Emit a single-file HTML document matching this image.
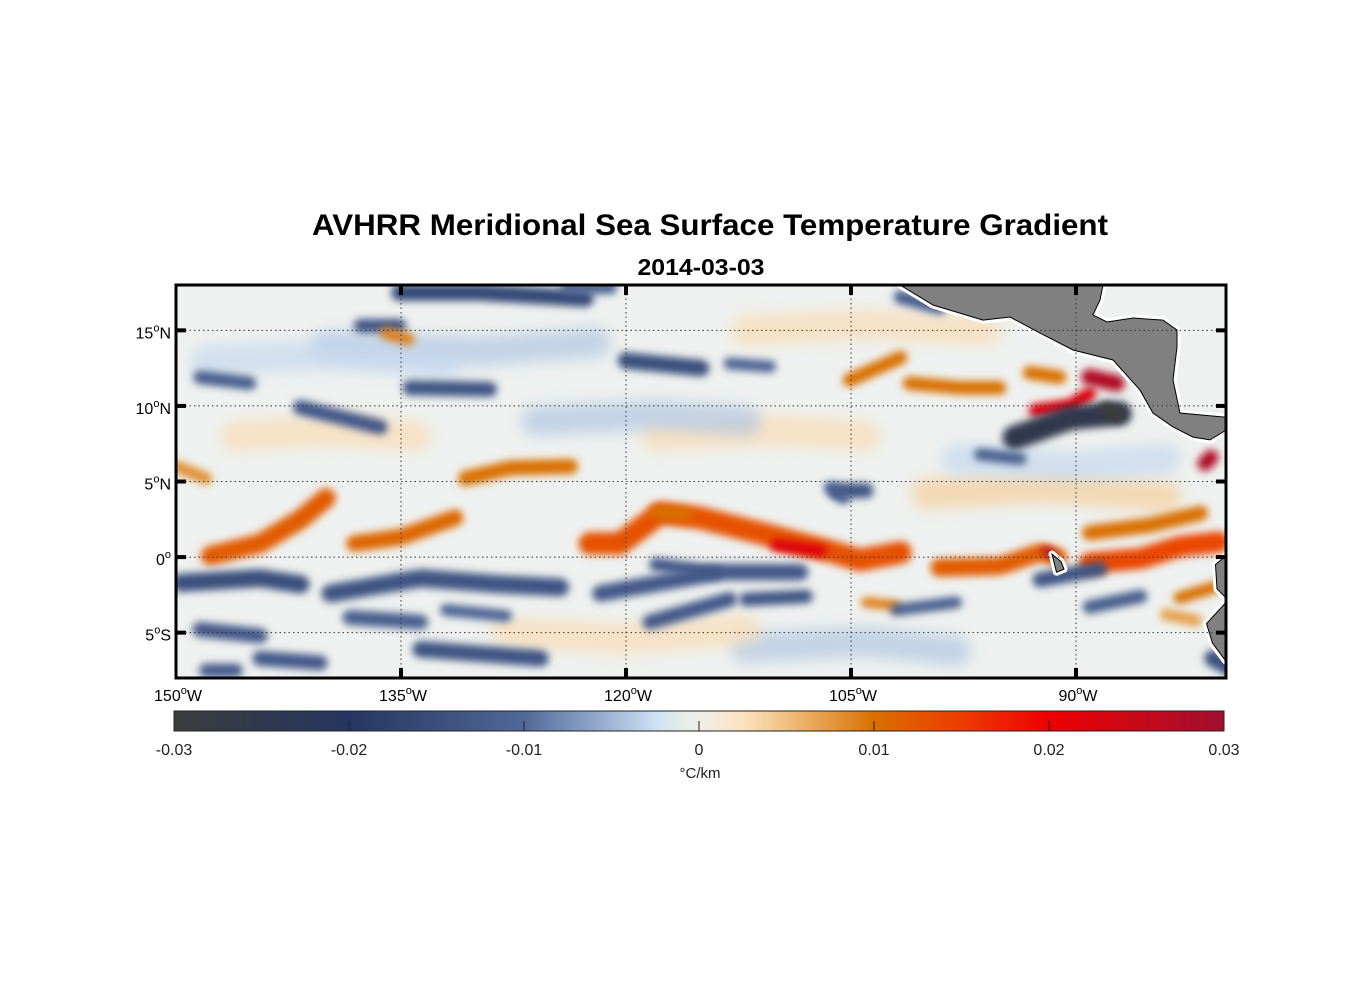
<!DOCTYPE html>
<html><head><meta charset="utf-8">
<style>
body{margin:0;background:#fff;}
svg{display:block;font-family:"Liberation Sans",Arial,sans-serif;}
</style></head>
<body>
<svg id="chart" width="1356" height="1000" viewBox="0 0 1356 1000">
<defs>
  <clipPath id="plotClip"><rect x="176" y="285" width="1050" height="393"/></clipPath>
  <filter id="blur" filterUnits="userSpaceOnUse" x="0" y="0" width="1356" height="1000"><feGaussianBlur stdDeviation="4"/></filter>
  <filter id="blur2" filterUnits="userSpaceOnUse" x="0" y="0" width="1356" height="1000"><feGaussianBlur stdDeviation="7"/></filter>
  <linearGradient id="cbGrad" x1="0" x2="1" y1="0" y2="0"></linearGradient>
</defs>
<text x="710" y="235" text-anchor="middle" font-size="30" font-weight="bold" textLength="796" lengthAdjust="spacingAndGlyphs">AVHRR Meridional Sea Surface Temperature Gradient</text>
<text x="701" y="275" text-anchor="middle" font-size="23" font-weight="bold" textLength="127" lengthAdjust="spacingAndGlyphs">2014-03-03</text>
<rect x="176" y="285" width="1050" height="393" fill="#eef1ef"/>
<g id="field" clip-path="url(#plotClip)"></g>
<g id="land" clip-path="url(#plotClip)"></g>
<g id="grid"></g>
<rect x="176" y="285" width="1050" height="393" fill="none" stroke="#000" stroke-width="3"/>
<g id="axes"></g>
<g id="colorbar"></g>
<text x="700" y="778" text-anchor="middle" font-size="15" fill="#222">°C/km</text>
</svg>
<script>
// ---- data ----
const lonTicks = [-150, -135, -120, -105, -90];
const lonTickLabels = ["150", "135", "120", "105", "90"];
const latTicks = [15, 10, 5, 0, -5];
const latTickLabels = ["15", "10", "5", "0", "5"];
const latTickSuffix = ["N", "N", "N", "", "S"];
const cbTicks = [-0.03, -0.02, -0.01, 0, 0.01, 0.02, 0.03];
const cbTickLabels = ["-0.03", "-0.02", "-0.01", "0", "0.01", "0.02", "0.03"];
const cmapValues = [-0.03, -0.02, -0.01, -0.005, -0.0025, -0.001, 0, 0.0025, 0.005, 0.01, 0.015, 0.02, 0.03];
const cmapColors = ["#3c3c3c", "#243660", "#51689a", "#9fb6d6", "#cde0f5", "#e2ede7", "#f0eeec", "#fce2c0", "#f0c080", "#d97000", "#ee3c00", "#ee0000", "#a01030"];
const featureValues = [0.003, 0.003, -0.004, -0.004, 0.004, -0.003, 0.003, -0.004, 0.003, -0.003,
  0.012, 0.011, 0.010, 0.013, 0.012, 0.014, 0.010, 0.010, 0.010, 0.010, 0.022, 0.028, 0.028, 0.010, 0.022, 0.028, 0.010,
  -0.025, -0.030, -0.015, -0.014, -0.013, -0.016, -0.014, -0.014, -0.013, -0.012, -0.013, -0.013, -0.012, -0.014, -0.013, -0.012, -0.014, -0.012, -0.015, -0.014, -0.015, -0.012, -0.011, -0.012, -0.013,
  0.008, 0.009, -0.012, -0.011, -0.013, 0.009, -0.012, -0.014, 0.007];
const featureWidths = [2.0, 2.0, 2.0, 2.0, 2.0, 2.0, 2.0, 2.0, 2.0, 2.0,
  1.3, 1.1, 1.0, 1.5, 1.2, 1.4, 1.0, 0.9, 0.9, 0.9, 0.9, 1.1, 1.0, 0.8, 0.8, 0.6, 0.9,
  1.6, 1.0, 1.2, 1.2, 1.1, 1.1, 0.9, 1.0, 1.0, 0.9, 1.0, 1.0, 1.0, 1.1, 1.0, 0.9, 1.0, 0.9, 1.1, 1.0, 1.1, 0.8, 0.8, 0.8, 0.9,
  0.8, 0.8, 0.8, 0.8, 0.9, 0.7, 0.8, 0.9, 0.8];
const featureLons = [
  [-146.0,-140.0,-134.0],[-118.0,-110.0,-104.0],[-140.0,-130.0,-122.0],[-112.0,-104.0,-98.0],[-100.0,-92.0,-84.0],
  [-148.0,-140.0,-132.0],[-128.0,-120.0,-112.0],[-126.0,-118.0,-112.0],[-112.0,-104.0,-96.0],[-98.0,-90.0,-84.0],
  [-147.7,-144.4,-141.7,-140.0],[-138.1,-135.1,-131.4],[-130.7,-127.7,-123.7],
  [-122.4,-120.4,-117.7,-115.1,-111.1,-108.4,-106.1,-104.4,-101.7],
  [-99.1,-95.1,-92.4,-91.2],[-89.1,-85.7,-83.1,-80.5],[-89.1,-85.1,-81.7],[-105.1,-101.7],[-101.1,-97.7,-95.1],
  [-93.1,-91.1],[-92.7,-90.4,-89.1],[-89.1,-87.3],[-81.4,-81.0],[-83.1,-80.8],[-110.0,-107.0],[-92.0,-91.6],[-118.0,-116.0],
  [-94.1,-90.4,-87.1],[-88.0,-87.2],[-149.7,-144.4,-141.7],[-139.7,-133.7,-128.4,-124.4],[-121.7,-113.7,-108.4],
  [-135.1,-129.7,-122.7],[-137.7,-135.1],[-134.4,-129.1],[-141.7,-136.4],[-148.4,-145.1],[-148.4,-144.4],[-144.4,-140.4],
  [-138.4,-133.7],[-133.7,-125.7],[-118.4,-113.1],[-101.7,-99.1],[-92.4,-88.4],[-89.1,-85.7],[-80.9,-79.8],[-106.0,-104.0],
  [-120.0,-115.0],[-96.4,-93.7],[-113.1,-110.4],[-106.4,-105.5],[-148.0,-146.0],
  [-150.0,-148.0],[-136.0,-134.5],[-124.0,-121.0],[-132.0,-128.0],[-118.0,-114.0],[-104.0,-102.0],[-102.0,-98.0],[-112.0,-108.0],[-84.0,-82.0]
];
const featureLats = [
  [8.0,8.4,8.0],[8.0,8.4,8.0],[14.0,13.6,14.2],[-6.0,-5.6,-6.2],[4.2,4.6,4.0],
  [13.0,13.4,12.8],[-5.0,-5.4,-4.8],[9.0,9.4,9.0],[15.0,15.4,15.0],[6.5,6.0,6.5],
  [0.1,0.9,2.5,3.9],[0.9,1.3,2.6],[5.2,5.9,6.0],
  [0.9,0.9,2.9,2.6,1.6,0.9,0.3,-0.2,0.3],
  [-0.7,-0.6,0.3,0.0],[-0.4,-0.1,0.7,1.0],[1.6,2.1,2.9],[11.7,13.2],[11.5,11.2,11.2],
  [12.2,11.9],[9.7,10.0,10.8],[11.9,11.5],[6.2,6.6],[-2.7,-2.0],[0.8,0.4],[0.4,0.2],[3.0,2.8],
  [7.9,9.2,9.5],[9.8,9.4],[-1.7,-1.4,-1.8],[-2.4,-1.4,-1.8,-2.0],[-2.4,-1.0,-1.0],
  [17.5,17.5,17.1],[15.3,15.3],[11.2,11.1],[9.9,8.6],[11.9,11.5],[-4.8,-5.2],[-6.7,-7.0],
  [-4.0,-4.3],[-6.1,-6.7],[-4.3,-2.8],[17.2,16.5],[-1.5,-0.8],[-3.3,-2.6],[-6.7,-7.3],[4.4,4.4],
  [13.0,12.5],[6.8,6.5],[12.8,12.6],[4.6,3.9],[-7.5,-7.5],
  [6.0,5.2],[14.8,14.4],[17.8,17.8],[-3.5,-3.9],[-0.5,-1.0],[-3.0,-3.2],[-3.5,-3.0],[-2.8,-2.6],[-3.8,-4.2]
];
const landLons = [
  [-101.73,-99.53,-96.2,-94.4,-92.4,-90.2,-87.53,-85.73,-84.87,-83.53,-82.2,-81.07,-79.5,-79.5,-83.07,-83.53,-83.27,-83.27,-84.2,-86.2,-87.93,-88.87,-88.4,-88.2,-88.2,-101.73],
  [-79.5,-80.0,-80.7,-80.6,-80.0,-79.5],
  [-79.5,-80.0,-81.3,-80.9,-80.0,-79.5],
  [-91.6,-91.0,-90.8,-91.3,-91.6]
];
const landLats = [
  [18.0,16.68,15.68,15.88,14.82,13.7,13.04,11.05,9.53,8.61,7.94,7.75,8.7,9.2,9.53,11.71,13.9,15.02,15.68,15.82,15.55,16.02,17.0,18.0,19.5,19.5],
  [0.3,0.1,-0.5,-2.1,-2.7,-2.7],
  [-3.0,-3.0,-4.4,-5.7,-6.9,-6.9],
  [0.2,-0.3,-0.8,-1.0,0.2]
];

// ---- axes ----
const X0 = 176, X1 = 1226, Y0 = 285, Y1 = 678;
const LON0 = -150, LON1 = -80, LAT0 = -8, LAT1 = 18;
const xScale = lon => X0 + (lon - LON0) / (LON1 - LON0) * (X1 - X0);
const yScale = lat => Y1 - (lat - LAT0) / (LAT1 - LAT0) * (Y1 - Y0);
const CB0 = 174, CB1 = 1224, CBY = 711, CBH = 20;
const cbScale = v => CB0 + (v - cbTicks[0]) / (cbTicks[cbTicks.length-1] - cbTicks[0]) * (CB1 - CB0);
const NS = "http://www.w3.org/2000/svg";
function mk(tag, attrs, parent){ const e = document.createElementNS(NS, tag); for (const k in attrs) e.setAttribute(k, attrs[k]); parent.appendChild(e); return e; }
function hex(c){ return [parseInt(c.substr(1,2),16), parseInt(c.substr(3,2),16), parseInt(c.substr(5,2),16)]; }
function cmap(v){
  if (v <= cmapValues[0]) return cmapColors[0];
  for (let i = 1; i < cmapValues.length; i++) {
    if (v <= cmapValues[i]) {
      const t = (v - cmapValues[i-1]) / (cmapValues[i] - cmapValues[i-1]);
      const a = hex(cmapColors[i-1]), b = hex(cmapColors[i]);
      return "rgb(" + a.map((x, j) => Math.round(x + (b[j] - x) * t)).join(",") + ")";
    }
  }
  return cmapColors[cmapColors.length-1];
}
const pxPerDeg = (Y1 - Y0) / (LAT1 - LAT0);

const field = document.getElementById('field');
featureValues.forEach((v, i) => {
  const pts = featureLons[i].map((lon, j) => xScale(lon).toFixed(1) + "," + yScale(featureLats[i][j]).toFixed(1)).join(" ");
  const wide = featureWidths[i] >= 2;
  const pl = mk('polyline', {points: pts, fill: "none", stroke: cmap(v), "stroke-width": (featureWidths[i] * pxPerDeg).toFixed(1),
    "stroke-linecap": "round", "stroke-linejoin": "round", filter: wide ? "url(#blur2)" : "url(#blur)", opacity: wide ? 0.7 : 1}, field);
  
  
});

const land = document.getElementById('land');
landLons.forEach((lons, i) => {
  const pts = lons.map((lon, j) => xScale(lon).toFixed(1) + "," + yScale(landLats[i][j]).toFixed(1)).join(" ");
  const halo = mk('polygon', {points: pts, fill: "#fff", stroke: "#fff", "stroke-width": 7, "stroke-linejoin": "round"}, land);
  
  
});
landLons.forEach((lons, i) => {
  const pts = lons.map((lon, j) => xScale(lon).toFixed(1) + "," + yScale(landLats[i][j]).toFixed(1)).join(" ");
  const pg = mk('polygon', {points: pts, fill: "#808080", stroke: "#000", "stroke-width": 1}, land);
  
  
});

const grid = document.getElementById('grid');
const axes = document.getElementById('axes');
lonTicks.forEach((lon, i) => {
  const x = xScale(lon);
  if (i > 0) {
    const gl = mk('line', {x1: x, x2: x, y1: Y0, y2: Y1, stroke: "#333", "stroke-width": 1, "stroke-dasharray": "1.5,3"}, grid);
    
    
    const t1 = mk('line', {x1: x, x2: x, y1: Y0, y2: Y0 + 10, stroke: "#000", "stroke-width": 4}, axes);
    
    
    const t2 = mk('line', {x1: x, x2: x, y1: Y1 - 10, y2: Y1, stroke: "#000", "stroke-width": 4}, axes);
    
    
  }
  const tx = mk('text', {x: x + 2, y: 701, "text-anchor": "middle", "font-size": 16}, axes);
  
  
  tx.innerHTML = lonTickLabels[i] + '<tspan dy="-7" font-size="11">o</tspan><tspan dy="7">W</tspan>';
});
latTicks.forEach((lat, i) => {
  const y = yScale(lat);
  const gl = mk('line', {x1: X0, x2: X1, y1: y, y2: y, stroke: "#333", "stroke-width": 1, "stroke-dasharray": "1.5,3"}, grid);
  
  
  const t1 = mk('line', {x1: X0, x2: X0 + 10, y1: y, y2: y, stroke: "#000", "stroke-width": 4}, axes);
  
  
  const t2 = mk('line', {x1: X1 - 10, x2: X1, y1: y, y2: y, stroke: "#000", "stroke-width": 4}, axes);
  
  
  const tx = mk('text', {x: 171, y: y + 8, "text-anchor": "end", "font-size": 16}, axes);
  
  
  tx.innerHTML = latTickLabels[i] + '<tspan dy="-7" font-size="11">o</tspan><tspan dy="7">' + latTickSuffix[i] + '</tspan>';
});

const grad = document.getElementById('cbGrad');
cmapValues.forEach((v, i) => {
  mk('stop', {offset: ((v - cbTicks[0]) / (cbTicks[cbTicks.length-1] - cbTicks[0]) * 100).toFixed(2) + "%", "stop-color": cmapColors[i]}, grad);
});
const cb = document.getElementById('colorbar');
const cbr = mk('rect', {x: CB0, y: CBY, width: CB1 - CB0, height: CBH, fill: "url(#cbGrad)", stroke: "#222", "stroke-width": 1}, cb);


cbTicks.forEach((v, i) => {
  const x = cbScale(v);
  if (i > 0 && i < cbTicks.length - 1) {
    const tk = mk('line', {x1: x, x2: x, y1: CBY + CBH - 10, y2: CBY + CBH, stroke: "#222", "stroke-width": 1}, cb);
    
    
  }
  const tx = mk('text', {x: x, y: 755, "text-anchor": "middle", "font-size": 16, fill: "#222"}, cb);
  
  
  tx.textContent = cbTickLabels[i];
});
</script>
</body></html>
